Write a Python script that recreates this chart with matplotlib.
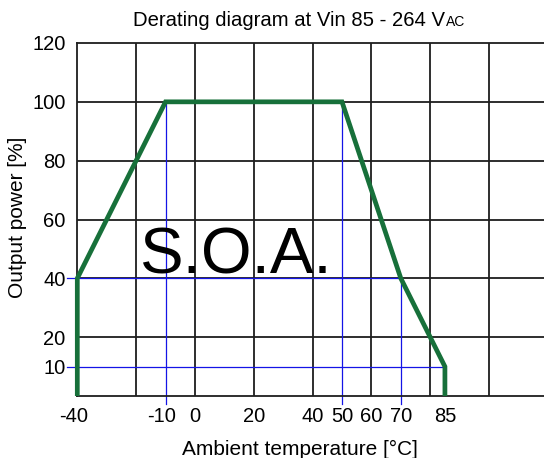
import matplotlib
matplotlib.use("Agg")
import matplotlib.pyplot as plt
from matplotlib.transforms import ScaledTranslation

plt.rcParams['font.family'] = ['Liberation Sans', 'DejaVu Sans']

# Data
curve_x = [-40, -40, -10, 50, 70, 85, 85]
curve_y = [0, 40, 100, 100, 40, 10, 0]
xticks = [-40, -10, 0, 20, 40, 50, 60, 70, 85]
yticks = [10, 20, 40, 60, 80, 100, 120]
grid_x = [-20, 0, 20, 40, 60, 80, 100]
grid_y = [20, 40, 60, 80, 100]
# blue guide lines: (x, y_top) verticals and (y, x_right) horizontals
guide_v = [(-10, 100), (50, 100), (70, 40)]
guide_h = [(40, 70), (10, 85)]

W, H = 544, 458
fig = plt.figure(figsize=(W / 100, H / 100), dpi=100)
x0_px, x_scale = 77.3, 2.941
y0_px, ytop_px = 396, 43
ax = fig.add_axes([x0_px / W, (H - y0_px) / H, (W - x0_px) / W, (y0_px - ytop_px) / H])
xmax = -40 + (W - x0_px) / x_scale
ax.set_xlim(-40, xmax)
ax.set_ylim(0, 120)

black = '#1e1e1e'
for gx in grid_x:
    ax.axvline(gx, color=black, lw=1.3, zorder=1)
for gy in grid_y:
    ax.axhline(gy, color=black, lw=1.3, zorder=1)

for s in ['left', 'bottom', 'top']:
    ax.spines[s].set_color(black)
    ax.spines[s].set_linewidth(1.3)
ax.spines['right'].set_visible(False)

blue = '#1414e6'
ext_y = 8 / x_scale
ext_x = 10 / x_scale
for gx, ytop in guide_v:
    ax.plot([gx, gx], [ytop, -ext_y], color=blue, lw=0.9, zorder=2, clip_on=False)
for gy, xr in guide_h:
    ax.plot([-40 - ext_x, xr], [gy, gy], color=blue, lw=0.9, zorder=2, clip_on=False)

ax.plot(curve_x, curve_y, color='#17703a', lw=3.4, zorder=3, solid_joinstyle='miter',
        solid_capstyle='butt', clip_on=False)

ax.text(-18.6, 41.7, 'S.O.A.', fontsize=47, color='black', ha='left', va='baseline', zorder=4)

ax.set_xticks(xticks)
ax.set_xticklabels([str(v) for v in xticks])
ax.set_yticks(yticks)
ax.set_yticklabels([str(v) for v in yticks])
ax.tick_params(axis='x', length=0, pad=8, labelsize=14.5)
ax.tick_params(axis='y', length=0, pad=8.5, labelsize=14.5)
for lbl, v in zip(ax.get_xticklabels(), xticks):
    if v < 0:
        lbl.set_transform(lbl.get_transform() + ScaledTranslation(-4 / 100, 0, fig.dpi_scale_trans))

fig.text(299.5 / W, 1 - 449 / H, 'Ambient temperature [°C]', fontsize=15, ha='center', va='center')
fig.text(18 / W, 1 - 217 / H, 'Output power [%]', fontsize=15, ha='center', va='center', rotation=90)

# Title with small "AC"
fig.text(445 / W, 1 - 26 / H, 'Derating diagram at Vin 85 - 264 V', fontsize=14.6,
         ha='right', va='baseline')
fig.text(446 / W, 1 - 26 / H, 'AC', fontsize=10, ha='left', va='baseline')

fig.savefig('out.png', dpi=100)
